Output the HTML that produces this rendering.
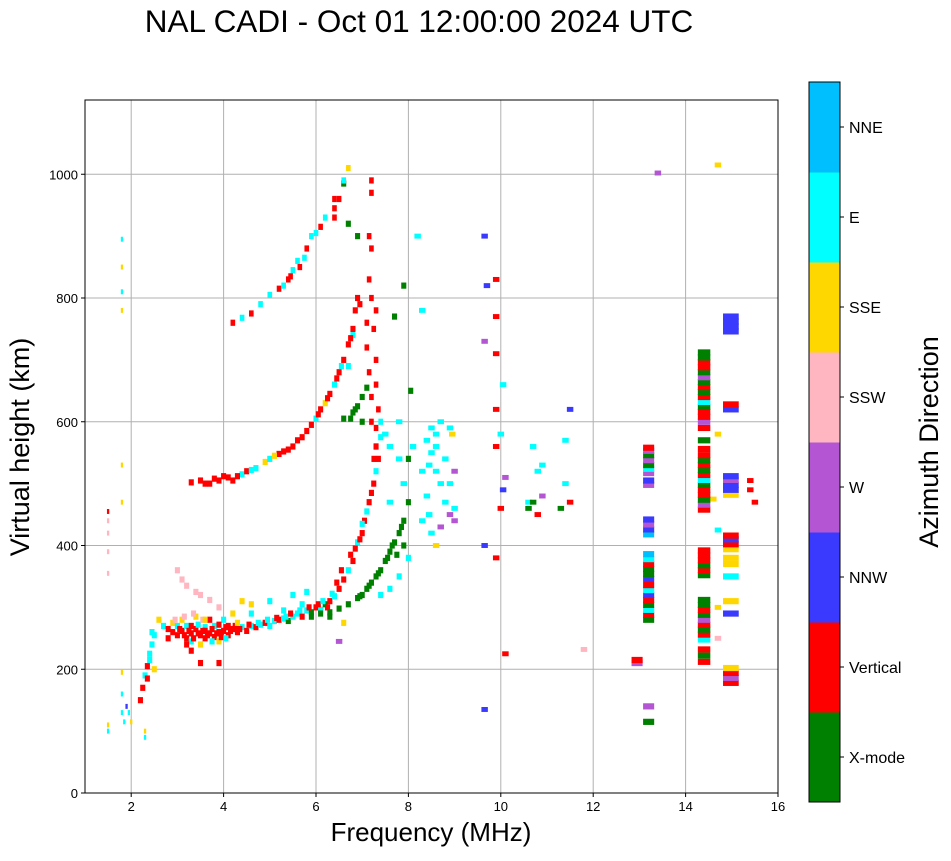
<!DOCTYPE html>
<html><head><meta charset="utf-8"><style>
body{margin:0;background:#fff;font-family:"Liberation Sans",sans-serif;}
</style></head><body>
<svg id="chart" width="951" height="856" xmlns="http://www.w3.org/2000/svg" font-family="Liberation Sans, sans-serif">
<text x="419" y="32" font-size="31.5" text-anchor="middle">NAL CADI - Oct 01 12:00:00 2024 UTC</text>
<g id="grid"></g>
<g id="marks"></g>
<rect x="85" y="100" width="693" height="693" fill="none" stroke="#000" stroke-width="1"/>
<g id="axes"></g>
<text x="431" y="841" font-size="26" text-anchor="middle">Frequency (MHz)</text>
<text transform="translate(29,447) rotate(-90)" font-size="27" text-anchor="middle">Virtual height (km)</text>
<g id="cbar"></g>
<text transform="translate(938,442) rotate(-90)" font-size="27" text-anchor="middle">Azimuth Direction</text>
</svg>
<script>
const categories=["X-mode","Vertical","NNW","W","SSW","SSE","E","NNE"];
const catColors=["#008000","#ff0000","#3a3aff","#b455d4","#ffb6c1","#ffd700","#00ffff","#00bfff"];
const xTicks=[2,4,6,8,10,12,14,16];
const yTicks=[0,200,400,600,800,1000];
const traceLow=[[2.25,170,1],[2.3,190,6],[2.35,205,1],[2.4,225,6],[2.45,240,6],[2.5,255,6],[2.5,200,5],[2.6,280,5],[2.7,270,6],[2.8,265,1],[2.9,275,5],[2.9,260,1],[3.0,270,6],[3.0,255,1],[3.1,262,1],[3.1,280,5],[3.2,250,1],[3.2,270,6],[3.3,258,1],[3.3,245,6],[3.4,265,1],[3.4,285,5],[3.5,255,1],[3.5,240,5],[3.6,250,1],[3.6,268,6],[3.7,258,1],[3.7,280,1],[3.8,252,1],[3.8,270,6],[3.9,260,1],[3.9,245,5],[4.0,262,1],[4.0,280,6],[4.1,255,1],[4.2,265,1],[4.2,290,5],[4.3,260,1],[4.4,268,6],[4.5,262,1],[4.6,270,6],[4.7,268,1],[4.8,272,6],[4.9,275,1],[5.0,270,6],[5.1,278,6],[5.2,280,1],[5.3,282,6],[5.4,278,0],[5.5,285,6],[5.6,290,6],[5.7,285,1],[5.8,295,6],[5.9,292,0],[6.0,300,1],[6.1,296,6],[6.2,305,0],[6.3,310,1],[6.4,318,6],[6.5,330,1],[6.6,345,1],[6.7,360,6],[6.8,375,1],[6.85,395,1],[6.9,405,6],[7.0,420,1],[7.05,440,1],[7.1,455,6],[7.15,470,1],[7.2,485,1],[7.25,500,1],[7.3,520,6],[7.35,540,1],[7.3,560,1],[7.4,575,6],[3.0,360,4],[3.1,345,4],[3.2,335,4],[3.4,325,4],[3.5,320,4],[3.7,312,4],[3.9,300,4],[4.4,310,5],[4.6,305,5],[5.0,310,6],[5.5,320,6],[5.8,325,6],[3.3,270,1],[3.6,262,1],[3.9,272,1],[4.1,270,1],[2.8,250,1],[3.2,240,1]];
const traceDense=[[3.05,265,1],[3.15,255,1],[3.25,262,1],[3.35,250,1],[3.45,258,1],[3.55,262,1],[3.65,255,1],[3.75,265,1],[3.85,258,1],[3.95,252,1],[4.05,268,1],[4.15,262,1],[4.25,270,1],[4.35,265,1],[3.45,272,6],[3.75,245,6],[4.05,250,6],[4.3,275,5],[3.55,280,4],[3.15,285,4],[2.95,280,4],[3.35,290,4],[4.55,272,1],[4.75,275,6],[4.95,280,6],[5.15,283,1],[5.35,285,6],[5.45,290,1],[5.65,295,6],[5.85,300,1],[6.05,305,1],[6.15,310,6],[6.25,300,1],[6.35,322,6],[6.45,340,1],[6.55,360,1],[6.75,385,1],[6.95,410,1],[7.0,435,6],[6.6,275,5],[6.3,285,0],[2.35,185,1],[2.4,215,6],[2.45,260,6],[2.2,150,1],[3.5,210,1],[3.9,210,1],[3.3,230,1],[3.6,280,5],[4.6,290,6],[5.3,295,6],[5.7,305,6]];
const traceX=[[5.9,285,0],[6.1,290,0],[6.3,292,0],[6.5,298,0],[6.7,305,0],[6.9,315,0],[7.0,320,0],[7.1,330,0],[7.2,340,0],[7.3,350,0],[7.4,360,0],[7.5,375,0],[7.6,390,0],[7.7,405,0],[7.8,420,0],[7.9,440,0],[8.0,470,0],[8.0,540,0],[8.05,650,0],[7.9,820,0],[7.7,770,0],[7.55,380,0],[7.65,400,0],[7.85,430,0],[7.35,355,0],[7.15,335,0],[6.95,318,0],[7.4,320,6],[7.6,330,6],[7.8,350,6],[7.75,385,0],[7.9,400,0],[8.0,380,6]];
const traceHop2=[[3.3,502,1],[3.5,505,1],[3.7,500,1],[3.9,505,1],[4.0,512,1],[4.2,505,1],[4.4,515,6],[4.5,520,1],[4.7,525,6],[4.9,535,5],[5.0,540,6],[5.2,548,1],[5.4,555,1],[5.6,570,1],[5.8,585,1],[5.9,595,1],[6.0,605,6],[6.1,620,1],[6.2,630,5],[6.3,645,1],[6.4,660,6],[6.5,680,1],[6.6,700,1],[6.7,725,1],[6.8,750,1],[6.85,780,1],[6.9,800,1],[6.7,690,6],[6.8,740,6],[6.6,605,0],[6.8,615,0],[6.9,625,0],[7.0,640,0],[7.1,655,0],[6.9,900,0],[6.7,920,0],[6.6,985,0],[3.6,500,1],[3.8,508,1],[4.1,510,1],[4.3,512,1],[4.6,522,6],[5.1,545,5],[5.3,552,1],[5.5,560,1],[5.7,575,1],[6.05,612,1],[6.25,638,1],[6.45,670,1],[6.55,690,6],[6.75,735,1],[6.95,790,1],[6.75,605,0],[6.85,620,0],[7.0,600,0]];
const traceHop3=[[4.2,760,1],[4.4,768,6],[4.6,775,1],[4.8,790,6],[5.0,805,6],[5.2,815,1],[5.4,830,1],[5.5,845,6],[5.6,860,6],[5.8,880,1],[5.9,900,6],[6.1,915,1],[6.2,930,6],[6.4,945,1],[6.5,960,1],[6.6,990,6],[6.7,1010,5],[7.2,990,1],[7.2,970,1],[7.15,900,1],[7.2,880,1],[7.15,830,1],[7.2,800,1],[7.3,780,1],[7.25,750,1],[7.3,700,1],[7.3,660,1],[7.35,620,1],[7.3,590,1],[7.3,560,1],[6.4,960,1],[6.4,930,1],[5.3,820,6],[5.45,835,1],[5.65,850,1],[5.75,865,6],[6.0,905,6],[7.1,720,1],[7.15,680,1],[7.2,640,1],[7.1,760,1],[7.2,600,1],[7.25,540,1],[7.4,600,6]];
const traceHigh=[[7.5,580,6],[7.6,560,6],[7.8,540,6],[8.1,560,6],[8.4,570,6],[8.5,550,6],[8.6,520,6],[8.7,500,6],[8.4,480,6],[8.8,470,6],[8.9,450,3],[9.0,440,3],[8.5,420,6],[8.6,400,5],[8.3,440,6],[8.7,600,6],[8.9,590,6],[7.9,500,6],[7.8,600,6],[7.6,470,6],[9.0,460,6],[8.2,900,6],[8.3,780,6],[9.65,900,2],[9.7,820,2],[9.65,730,3],[9.9,830,1],[9.9,770,1],[9.9,710,1],[9.9,620,1],[9.9,560,1],[9.9,380,1],[9.65,400,2],[10.0,460,1],[10.05,490,2],[10.0,580,6],[10.05,660,6],[10.1,225,1],[10.1,510,3],[10.6,470,6],[10.7,560,6],[10.8,520,6],[10.9,480,3],[10.8,450,1],[10.9,530,6],[11.4,500,6],[11.5,470,1],[11.4,570,6],[11.5,620,2],[11.3,460,0],[11.8,232,4],[9.65,135,2],[10.7,470,0],[10.6,460,0],[6.5,245,3],[14.7,1015,5],[13.4,1002,3],[14.7,580,5],[14.7,425,6],[14.7,250,4],[14.7,300,5],[14.6,475,5],[15.5,470,1],[15.4,490,1],[15.4,505,1],[8.45,530,6],[8.6,560,6],[8.9,500,6],[9.0,520,3],[8.8,540,6],[8.45,450,6],[8.7,430,3],[8.3,520,6],[8.6,580,6],[8.95,580,5],[8.5,590,6]];
const traceLowFreq=[[1.5,100,6],[1.5,110,5],[1.5,455,1],[1.5,440,4],[1.5,420,4],[1.5,390,4],[1.5,355,4],[1.8,895,6],[1.8,850,5],[1.8,810,6],[1.8,780,5],[1.8,530,5],[1.8,470,5],[1.8,195,5],[1.8,160,6],[1.8,130,6],[1.85,115,6],[1.9,140,2],[1.95,130,6],[2.3,90,6],[2.3,100,5],[2.0,115,5]];
const col132=[[13.2,115,0],[13.2,140,3],[12.95,210,3],[12.95,215,1],[13.2,280,0],[13.2,288,1],[13.2,296,6],[13.2,304,0],[13.2,312,1],[13.2,320,2],[13.2,328,6],[13.2,336,1],[13.2,346,2],[13.2,354,0],[13.2,362,0],[13.2,370,1],[13.2,378,6],[13.2,386,7],[13.2,418,7],[13.2,426,2],[13.2,434,3],[13.2,442,2],[13.2,498,3],[13.2,505,2],[13.2,517,3],[13.2,524,6],[13.2,530,0],[13.2,538,3],[13.2,546,0],[13.2,553,3],[13.2,558,1]];
const col144=[[14.4,212,1],[14.4,222,0],[14.4,232,1],[14.4,248,6],[14.4,256,1],[14.4,264,0],[14.4,272,1],[14.4,280,3],[14.4,288,0],[14.4,296,1],[14.4,304,0],[14.4,312,0],[14.4,352,0],[14.4,360,1],[14.4,368,0],[14.4,376,1],[14.4,384,1],[14.4,392,1],[14.4,458,1],[14.4,466,3],[14.4,474,0],[14.4,482,1],[14.4,490,1],[14.4,498,0],[14.4,506,6],[14.4,514,1],[14.4,522,0],[14.4,530,1],[14.4,538,0],[14.4,546,1],[14.4,556,1],[14.4,570,0],[14.4,590,1],[14.4,600,3],[14.4,608,1],[14.4,616,1],[14.4,624,0],[14.4,632,6],[14.4,640,1],[14.4,648,0],[14.4,656,1],[14.4,664,0],[14.4,672,3],[14.4,680,0],[14.4,688,1],[14.4,696,1],[14.4,704,0],[14.4,712,0]];
const col150=[[14.98,178,1],[14.98,186,3],[14.98,194,1],[14.98,202,5],[14.98,290,2],[14.98,310,5],[14.98,350,6],[14.98,370,5],[14.98,380,5],[14.98,394,5],[14.98,402,1],[14.98,410,2],[14.98,416,1],[14.98,482,5],[14.98,490,2],[14.98,498,2],[14.98,506,3],[14.98,512,2],[14.98,620,2],[14.98,628,1],[14.98,746,2],[14.98,754,2],[14.98,762,2],[14.98,770,2]];

const NS="http://www.w3.org/2000/svg";
const X0=85,X1=778,Y0=793,Y1=100,XMIN=1,XMAX=16,YMIN=0,YMAX=1120;
function xs(v){return X0+(v-XMIN)/(XMAX-XMIN)*(X1-X0);}
function ys(v){return Y0-(v-YMIN)/(YMAX-YMIN)*(Y0-Y1);}
function mk(tag,attrs,parent){const e=document.createElementNS(NS,tag);for(const k in attrs)e.setAttribute(k,attrs[k]);parent.appendChild(e);return e;}
const grid=document.getElementById('grid'),axes=document.getElementById('axes'),marks=document.getElementById('marks'),cbar=document.getElementById('cbar');
xTicks.forEach(t=>{
 const gl=mk('line',{x1:xs(t),x2:xs(t),y1:Y1,y2:Y0,stroke:'#b0b0b0','stroke-width':1},grid);
 
 
 mk('line',{x1:xs(t),x2:xs(t),y1:Y0,y2:Y0+4,stroke:'#000'},axes);
 const tx=mk('text',{x:xs(t),y:Y0+18,'font-size':13,'text-anchor':'middle'},axes);tx.textContent=t;
 
 
});
yTicks.forEach(t=>{
 const gl=mk('line',{x1:X0,x2:X1,y1:ys(t),y2:ys(t),stroke:'#b0b0b0','stroke-width':1},grid);
 
 
 mk('line',{x1:X0-4,x2:X0,y1:ys(t),y2:ys(t),stroke:'#000'},axes);
 const tx=mk('text',{x:X0-7,y:ys(t)+5,'font-size':13,'text-anchor':'end'},axes);tx.textContent=t;
 
 
});
function draw(arr,w,hk,name){
 arr.forEach(p=>{
  const x=xs(p[0]-w/2),x2=xs(p[0]+w/2),y=ys(p[1]+hk),y2=ys(p[1]-hk);
  const r=mk('rect',{x:x,y:y,width:x2-x,height:y2-y,fill:catColors[p[2]]},marks);
  
  
 });
}
draw(traceLow,0.11,5,'low-trace');draw(traceDense,0.11,5,'dense-trace');draw(traceX,0.11,5,'xmode-trace');draw(traceHop2,0.11,5,'hop2-trace');
draw(traceHop3,0.1,5,'hop3-trace');draw(traceHigh,0.14,4,'high-trace');draw(traceLowFreq,0.05,4,'lowfreq-trace');
draw(col132,0.24,5,'column-13-2');draw(col144,0.27,5,'column-14-4');draw(col150,0.34,5,'column-15-0');
const CB_X=809,CB_W=31,CB_T=82,CB_B=802,seg=(CB_B-CB_T)/categories.length;
categories.forEach((c,i)=>{
 const y=CB_B-(i+1)*seg;
 const r=mk('rect',{x:CB_X,y:y,width:CB_W,height:seg+0.5,fill:catColors[i]},cbar);
 
 
 mk('line',{x1:CB_X+CB_W,x2:CB_X+CB_W+4,y1:y+seg/2,y2:y+seg/2,stroke:'#000'},cbar);
 mk('line',{x1:CB_X+CB_W-4,x2:CB_X+CB_W,y1:y,y2:y,stroke:'#000'},cbar);
 const t=mk('text',{x:CB_X+CB_W+9,y:y+seg/2+6,'font-size':16},cbar);t.textContent=c;
 
 
});
mk('rect',{x:CB_X,y:CB_T,width:CB_W,height:CB_B-CB_T,fill:'none',stroke:'#000'},cbar);
</script>
</body></html>
